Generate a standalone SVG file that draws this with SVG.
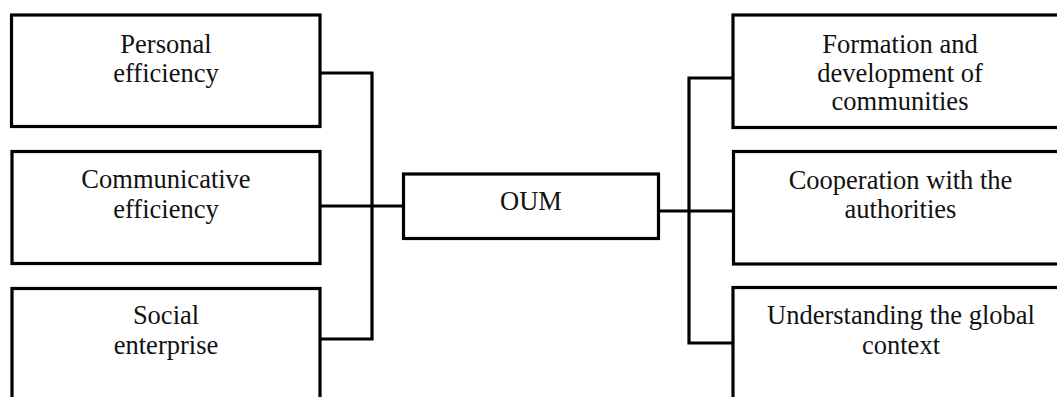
<svg xmlns="http://www.w3.org/2000/svg" width="1057" height="397" viewBox="0 0 1057 397">
<style>
.box{fill:#fff;stroke:#000;stroke-width:3.2}
.ln{fill:none;stroke:#000;stroke-width:3.2;stroke-linecap:square}
.t{font-size:26.5px;fill:#111;text-anchor:middle}
</style>
<rect width="1057" height="397" fill="#fff"/>
<g id="connectors">
<path class="ln" d="M320 73 H372 V339 H320"/>
<path class="ln" d="M320 206 H403"/>
<path class="ln" d="M658.5 211 H733"/>
<path class="ln" d="M733 78 H689 V343 H733"/>
</g>
<g font-family="Liberation Serif, DejaVu Serif, serif" class="t">
<g id="n1"><rect class="box" x="11.5" y="15" width="308.5" height="111.5"/>
<text x="166" y="53">Personal</text><text x="166" y="82">efficiency</text></g>
<g id="n2"><rect class="box" x="12" y="151.5" width="308" height="112"/>
<text x="166" y="188">Communicative</text><text x="166" y="218">efficiency</text></g>
<g id="n3"><rect class="box" x="12" y="288.5" width="308" height="130"/>
<text x="166" y="324">Social</text><text x="166" y="354">enterprise</text></g>
<g id="oum"><rect class="box" x="403.5" y="174" width="255" height="64.5"/>
<text x="531" y="210">OUM</text></g>
<g id="r1"><rect class="box" x="733" y="15" width="340" height="112.5"/>
<text x="900" y="53">Formation and</text><text x="900" y="82">development of</text><text x="900" y="110">communities</text></g>
<g id="r2"><rect class="box" x="733.5" y="151.5" width="340" height="112.5"/>
<text x="900.5" y="189">Cooperation with the</text><text x="900.5" y="218">authorities</text></g>
<g id="r3"><rect class="box" x="733" y="287.5" width="340" height="130"/>
<text x="901" y="324">Understanding the global</text><text x="901" y="354">context</text></g>
</g>
</svg>
